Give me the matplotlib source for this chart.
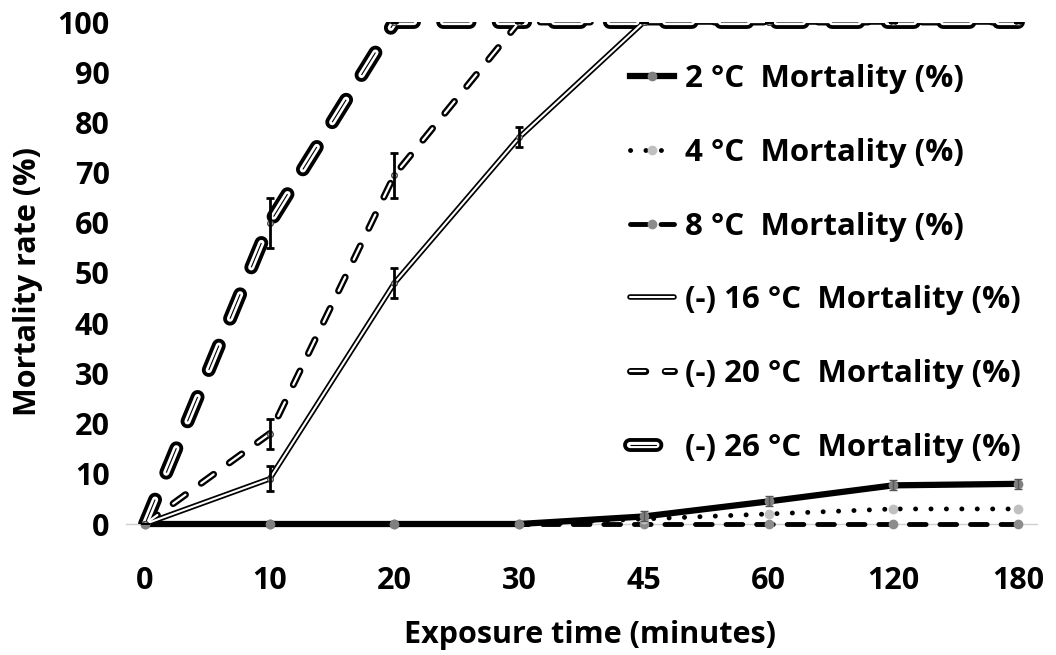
import matplotlib
matplotlib.use("Agg")
import matplotlib.pyplot as plt
from matplotlib.lines import Line2D
from matplotlib.legend_handler import HandlerTuple
import numpy as np

plt.rcParams['font.family'] = ['Open Sans', 'DejaVu Sans']
plt.rcParams['font.weight'] = 'bold'
plt.rcParams['lines.scale_dashes'] = False

times = ["0", "10", "20", "30", "45", "60", "120", "180"]
m2 = [0, 0, 0, 0, 1.5, 4.5, 7.7, 8]
e2 = [0, 0, 0, 0, 1, 1, 1, 1]
m4 = [0, 0, 0, 0, 1, 2, 3, 3]
m8 = [0, 0, 0, 0, 0, 0, 0, 0]
m16 = [0, 9, 48, 77, 100, 100, 100, 100]
e16 = [0, 2.5, 3, 2, 0, 0, 0, 0]
m20 = [0, 18, 69.5, 100, 100, 100, 100, 100]
e20 = [0, 3, 4.5, 0, 0, 0, 0, 0]
m26 = [0, 60, 100, 100, 100, 100, 100, 100]
e26 = [0, 5, 0, 0, 0, 0, 0, 0]
labels = ["2 °C  Mortality (%)", "4 °C  Mortality (%)", "8 °C  Mortality (%)",
          "(-) 16 °C  Mortality (%)", "(-) 20 °C  Mortality (%)", "(-) 26 °C  Mortality (%)"]

x = np.arange(len(times))
W, H = 1056, 655
fig = plt.figure(figsize=(W / 100, H / 100), dpi=100)
unit = (1018 - 145) / 7
x0, x1 = -0.15, 7.15
left = 145 + x0 * unit
right = 145 + x1 * unit
ax = fig.add_axes([left / W, (H - 524) / H, (right - left) / W, (524 - 22) / H])
ax.set_xlim(x0, x1)
ax.set_ylim(0, 100)

# low temperatures
l8 = dict(color='black', lw=3.5, ls=(0, (12, 10)), dash_capstyle='round', clip_on=False)
ax.plot(x, m8, **l8, zorder=3)
ax.plot(x, m8, 'o', ms=6, color='#8c8c8c', zorder=4, clip_on=False)
l4 = dict(color='black', lw=3.5, ls=(0, (0.1, 11)), dash_capstyle='round', clip_on=False)
ax.plot(x, m4, **l4, zorder=3)
ax.plot(x, m4, 'o', ms=6, color='#c0c0c0', zorder=4, clip_on=False)
l2 = dict(color='black', lw=4.5, clip_on=False)
ax.plot(x, m2, **l2, zorder=5)
ax.plot(x, m2, 'o', ms=6, color='#808080', zorder=6, clip_on=False)
ax.errorbar(x[4:], m2[4:], yerr=e2[4:], fmt='none', ecolor='#555555', capsize=3, lw=1, zorder=6)

# high temperatures: double lines
a16 = dict(color='black', lw=4, solid_capstyle='round')
b16 = dict(color='white', lw=1.5, solid_capstyle='round')
ax.plot(x, m16, **a16, zorder=7)
ax.plot(x, m16, **b16, zorder=8)

a20 = dict(color='black', lw=5, ls=(0, (11, 14)), dash_capstyle='round')
b20 = dict(color='white', lw=1.6, ls=(0, (11, 14)), dash_capstyle='round')
ax.plot(x, m20, **a20, zorder=7)
ax.plot(x, m20, **b20, zorder=8)

a26 = dict(color='black', lw=10, ls=(0, (19, 21)), dash_capstyle='round')
b26 = dict(color='white', lw=4.5, ls=(0, (19, 21)), dash_capstyle='round')
c26 = dict(color='black', lw=0.8, ls=(0, (19, 21)), dash_capstyle='butt')
ax.plot(x, m26, **a26, zorder=7)
ax.plot(x, m26, **b26, zorder=8)
ax.plot(x, m26, **c26, zorder=8)

for m in (m16, m20, m26):
    ax.plot(x, m, 'o', ms=4, mfc='white', mec='#444444', mew=1, zorder=9)

ax.errorbar(x, m16, yerr=e16, fmt='none', ecolor='black', capsize=3, lw=2, capthick=2, zorder=9)
ax.errorbar(x, m20, yerr=e20, fmt='none', ecolor='black', capsize=3, lw=2, capthick=2, zorder=9)
ax.errorbar(x, m26, yerr=e26, fmt='none', ecolor='black', capsize=3, lw=2, capthick=2, zorder=9)

for s in ['top', 'right', 'left']:
    ax.spines[s].set_visible(False)
ax.spines['bottom'].set_color('#d0d0d0')
ax.spines['bottom'].set_linewidth(1)
ax.set_xticks(x)
ax.set_xticklabels(times)
ax.set_yticks(np.arange(0, 101, 10))
ax.tick_params(axis='both', length=0, labelsize=22)
ax.tick_params(axis='x', pad=30)
ax.tick_params(axis='y', pad=12)
ax.set_xlabel("Exposure time (minutes)", fontsize=22, fontweight='bold')
ax.xaxis.set_label_coords((590 - left) / (right - left), -(620 - 524) / (524 - 22))
ax.set_ylabel("Mortality rate (%)", fontsize=22, fontweight='bold')
ax.yaxis.set_label_coords(-(left - 43) / (right - left), (524 - 282) / (524 - 22))

handles = [
    (Line2D([], [], **l2), Line2D([], [], marker='o', ls='', ms=6, color='#808080')),
    (Line2D([], [], **l4), Line2D([], [], marker='o', ls='', ms=6, color='#c0c0c0')),
    (Line2D([], [], **l8), Line2D([], [], marker='o', ls='', ms=6, color='#8c8c8c')),
    (Line2D([], [], **a16), Line2D([], [], **b16)),
    (Line2D([], [], **a20), Line2D([], [], **b20)),
    (Line2D([], [], **a26), Line2D([], [], **b26), Line2D([], [], **c26)),
]
leg = ax.legend(handles, labels, handler_map={tuple: HandlerTuple(ndivide=1)},
                loc='upper left', bbox_to_anchor=(630 / W, (H - 64) / H),
                bbox_transform=fig.transFigure, frameon=False, fontsize=22.5,
                borderpad=0, borderaxespad=0,
                labelspacing=1.4, handlelength=1.4, handletextpad=0.35)

fig.savefig("out.png", dpi=100)
